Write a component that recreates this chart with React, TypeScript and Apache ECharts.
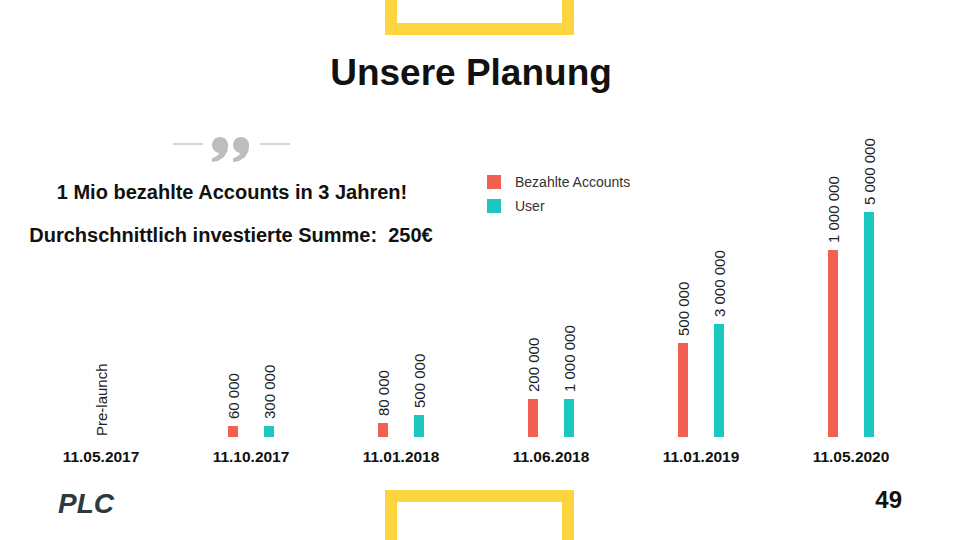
import React, { useEffect, useRef } from "react";
import * as echarts from "echarts";

const categories = ["11.05.2017", "11.10.2017", "11.01.2018", "11.06.2018", "11.01.2019", "11.05.2020"];
// bar heights as drawn on the slide (relative scale, not proportional to labels)
const paidHeights = [0, 11, 14, 38, 94, 187];
const userHeights = [0, 11, 22, 38, 113, 225];
// printed labels
const paidLabels = ["", "60 000", "80 000", "200 000", "500 000", "1 000 000"];
const userLabels = ["", "300 000", "500 000", "1 000 000", "3 000 000", "5 000 000"];
const seriesNames = ["Bezahlte Accounts", "User"];
const firstCategoryNote = "Pre-launch";

const RED = "#F26052";
const TEAL = "#1CC8BE";
const YELLOW = "#FDD63F";
const QUOTE = "#bdbdbd";
const FONT = "'Liberation Sans', Arial, sans-serif";

function quoteMark(cx: number) {
  return [
    { type: "circle", shape: { cx, cy: 145, r: 8 }, style: { fill: QUOTE } },
    {
      type: "polygon",
      shape: {
        points: [
          [cx + 8, 144],
          [cx + 7.5, 151],
          [cx + 4, 157],
          [cx - 2, 161],
          [cx - 8, 162],
          [cx - 8, 158.5],
          [cx - 3, 156],
          [cx + 1, 151],
          [cx + 2, 147],
        ],
      },
      style: { fill: QUOTE },
    },
  ];
}

export default function App() {
  const ref = useRef<HTMLDivElement>(null);
  useEffect(() => {
    if (!ref.current) return;
    const chart = echarts.init(ref.current, undefined, { renderer: "svg" });
    const labelStyle = (labels: string[]) => ({
      show: true,
      position: "top" as const,
      rotate: 90,
      align: "left" as const,
      verticalAlign: "middle" as const,
      distance: 7,
      fontSize: 15,
      fontFamily: FONT,
      color: "#222",
      formatter: (p: any) => labels[p.dataIndex],
    });
    chart.setOption({
      animation: false,
      backgroundColor: "#fff",
      textStyle: { fontFamily: FONT },
      grid: { left: 26, right: 34, top: 137, bottom: 103, containLabel: false },
      legend: {
        orient: "vertical",
        left: 487,
        top: 175,
        padding: 0,
        itemWidth: 14,
        itemHeight: 14,
        itemGap: 10,
        icon: "rect",
        textStyle: { fontSize: 14, color: "#333", fontFamily: FONT, padding: [0, 0, 0, 9] },
        data: seriesNames,
      },
      xAxis: {
        type: "category",
        data: categories,
        axisLine: { show: false },
        axisTick: { show: false },
        axisLabel: { fontSize: 15.5, fontWeight: "bold", color: "#111", margin: 11, fontFamily: FONT },
      },
      yAxis: { type: "value", min: 0, max: 300, show: false, splitLine: { show: false } },
      series: [
        {
          name: seriesNames[0],
          type: "bar",
          data: paidHeights,
          barWidth: 10,
          barGap: "260%",
          itemStyle: { color: RED },
          label: labelStyle(paidLabels),
        },
        {
          name: seriesNames[1],
          type: "bar",
          data: userHeights,
          barWidth: 10,
          barGap: "260%",
          itemStyle: { color: TEAL },
          label: labelStyle(userLabels),
        },
      ],
      graphic: [
        // top yellow frame
        { type: "rect", shape: { x: 391, y: -20, width: 177, height: 49 }, style: { fill: "none", stroke: YELLOW, lineWidth: 12 } },
        // bottom yellow frame
        { type: "rect", shape: { x: 391, y: 496, width: 177, height: 80 }, style: { fill: "none", stroke: YELLOW, lineWidth: 12 } },
        {
          type: "text",
          x: 471,
          y: 72,
          style: { text: "Unsere Planung", fontSize: 37, fontWeight: "bold", fill: "#111", align: "center", verticalAlign: "middle", fontFamily: FONT },
        },
        { type: "line", shape: { x1: 173, y1: 144, x2: 203, y2: 144 }, style: { stroke: "#c8c8c8", lineWidth: 1.5 } },
        { type: "line", shape: { x1: 260, y1: 144, x2: 290, y2: 144 }, style: { stroke: "#c8c8c8", lineWidth: 1.5 } },
        ...quoteMark(220),
        ...quoteMark(241),
        {
          type: "text",
          x: 232,
          y: 192,
          style: { text: "1 Mio bezahlte Accounts in 3 Jahren!", fontSize: 20, fontWeight: "bold", fill: "#111", align: "center", verticalAlign: "middle", fontFamily: FONT },
        },
        {
          type: "text",
          x: 231,
          y: 235,
          style: { text: "Durchschnittlich investierte Summe:  250\u20AC", fontSize: 20, fontWeight: "bold", fill: "#111", align: "center", verticalAlign: "middle", fontFamily: FONT },
        },
        {
          type: "text",
          x: 101,
          y: 436,
          rotation: Math.PI / 2,
          style: { text: firstCategoryNote, fontSize: 15, fill: "#222", align: "left", verticalAlign: "middle", fontFamily: FONT },
        },
        {
          type: "text",
          x: 58,
          y: 503,
          style: { text: "PLC", fontSize: 28, fontWeight: "bold", fontStyle: "italic", fill: "#2c3a40", align: "left", verticalAlign: "middle", fontFamily: "'Liberation Sans Narrow', 'Liberation Sans', sans-serif" },
        },
        {
          type: "text",
          x: 902,
          y: 499,
          style: { text: "49", fontSize: 24, fontWeight: "bold", fill: "#111", align: "right", verticalAlign: "middle", fontFamily: FONT },
        },
      ],
    });
    return () => chart.dispose();
  }, []);
  return <div ref={ref} style={{ position: "fixed", left: 0, top: 0, width: 960, height: 540 }} />;
}
